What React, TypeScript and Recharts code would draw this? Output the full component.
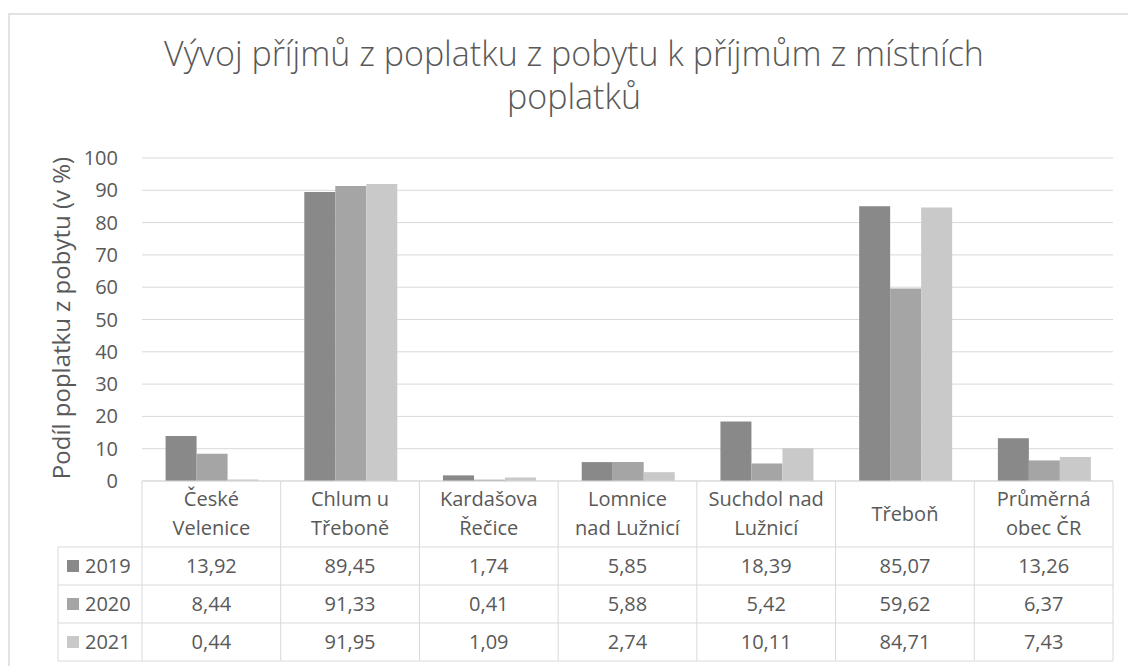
import { BarChart, Bar, XAxis, YAxis, CartesianGrid } from 'recharts'

const categories = [
  'České Velenice',
  'Chlum u Třeboně',
  'Kardašova Řečice',
  'Lomnice nad Lužnicí',
  'Suchdol nad Lužnicí',
  'Třeboň',
  'Průměrná obec ČR',
]
// how the category names wrap inside the data table
const categoryLines = [
  ['České', 'Velenice'],
  ['Chlum u', 'Třeboně'],
  ['Kardašova', 'Řečice'],
  ['Lomnice', 'nad Lužnicí'],
  ['Suchdol nad', 'Lužnicí'],
  ['Třeboň'],
  ['Průměrná', 'obec ČR'],
]
const years = ['2019', '2020', '2021']
const values2019 = [13.92, 89.45, 1.74, 5.85, 18.39, 85.07, 13.26]
const values2020 = [8.44, 91.33, 0.41, 5.88, 5.42, 59.62, 6.37]
const values2021 = [0.44, 91.95, 1.09, 2.74, 10.11, 84.71, 7.43]
const yTicks = [0, 10, 20, 30, 40, 50, 60, 70, 80, 90, 100]

const seriesValues = [values2019, values2020, values2021]
const colors = ['#898989', '#a5a5a5', '#c9c9c9']
const textColor = '#595959'
const lineColor = '#d9d9d9'
const font = '"Open Sans", sans-serif'

const data = categories.map((name, i) => ({
  name,
  y2019: values2019[i],
  y2020: values2020[i],
  y2021: values2021[i],
}))

const CHART_W = 1128
const CHART_H = 666
const MARGIN = { top: 158, right: 15, bottom: 0, left: 0 }
const Y_AXIS_W = 142
const X_AXIS_H = 185
const PLOT_W = CHART_W - MARGIN.left - MARGIN.right - Y_AXIS_W

function formatValue(v: number) {
  return v.toFixed(2).replace('.', ',')
}

function YTick(props: any) {
  const { y, payload } = props
  return (
    <text x={118} y={y} dy="0.35em" textAnchor="end" fill={textColor} fontSize={20} fontFamily={font}>
      {payload.value}
    </text>
  )
}

function TableTick(props: any) {
  const { x, y, index } = props
  const band = PLOT_W / categories.length
  const left = x - band / 2
  const right = x + band / 2
  const rowLines = [y + 66, y + 104, y + 142, y + 180]
  const rowCenters = [y + 85, y + 123, y + 161]
  const lines = categoryLines[index] || [categories[index]]
  const lineY = lines.length === 1 ? [y + 33] : [y + 18, y + 47]
  const legendLeft = 58

  return (
    <g>
      {index === 0 && (
        <g>
          <line x1={left} y1={y} x2={left} y2={rowLines[3]} stroke={lineColor} />
          <line x1={legendLeft} y1={rowLines[0]} x2={legendLeft} y2={rowLines[3]} stroke={lineColor} />
          {rowLines.map((ly, i) => (
            <line key={i} x1={legendLeft} y1={ly} x2={left} y2={ly} stroke={lineColor} />
          ))}
          {years.map((yr, i) => (
            <g key={yr}>
              <rect x={67} y={rowCenters[i] - 6} width={12} height={12} fill={colors[i]} />
              <text x={85} y={rowCenters[i]} dy="0.35em" fill={textColor} fontSize={20} fontFamily={font}>
                {yr}
              </text>
            </g>
          ))}
        </g>
      )}
      <line x1={right} y1={y} x2={right} y2={rowLines[3]} stroke={lineColor} />
      {rowLines.map((ly, i) => (
        <line key={i} x1={left} y1={ly} x2={right} y2={ly} stroke={lineColor} />
      ))}
      {lines.map((t, i) => (
        <text key={i} x={x} y={lineY[i]} dy="0.35em" textAnchor="middle" fill={textColor} fontSize={20} fontFamily={font}>
          {t}
        </text>
      ))}
      {seriesValues.map((vals, i) => (
        <text key={i} x={x} y={rowCenters[i]} dy="0.35em" textAnchor="middle" fill={textColor} fontSize={20} fontFamily={font}>
          {formatValue(vals[index])}
        </text>
      ))}
    </g>
  )
}

function YLabel() {
  return (
    <text
      x={62}
      y={318}
      transform="rotate(-90 62 318)"
      textAnchor="middle"
      dy="0.35em"
      fill={textColor}
      fontSize={24}
      fontFamily={font}
    >
      Podíl poplatku z pobytu (v %)
    </text>
  )
}

export default function App() {
  return (
    <div style={{ position: 'fixed', left: 0, top: 0, width: CHART_W, height: CHART_H, background: '#fff', overflow: 'hidden' }}>
      <div
        style={{
          position: 'absolute',
          left: 8,
          top: 13,
          width: 1200,
          height: 800,
          borderLeft: '2px solid #e2e2e2',
          borderTop: '2px solid #e2e2e2',
        }}
      />
      <div
        style={{
          position: 'absolute',
          left: 0,
          top: 32,
          width: 1148,
          textAlign: 'center',
          fontFamily: font,
          fontSize: 34,
          fontWeight: 300,
          lineHeight: '43px',
          color: textColor,
        }}
      >
        <div>Vývoj příjmů z poplatku z pobytu k příjmům z místních</div>
        <div>poplatků</div>
      </div>
      <div style={{ position: 'absolute', left: 0, top: 0 }}>
        <BarChart width={CHART_W} height={CHART_H} data={data} margin={MARGIN} barCategoryGap="17%" barGap={0}>
          <CartesianGrid vertical={false} stroke={lineColor} />
          <XAxis
            dataKey="name"
            height={X_AXIS_H}
            interval={0}
            tickLine={false}
            tickSize={0}
            tickMargin={0}
            axisLine={{ stroke: lineColor }}
            tick={<TableTick />}
          />
          <YAxis
            width={Y_AXIS_W}
            domain={[0, 100]}
            ticks={yTicks}
            axisLine={false}
            tickLine={false}
            tick={<YTick />}
            label={<YLabel />}
          />
          <Bar dataKey="y2019" name={years[0]} fill={colors[0]} isAnimationActive={false} />
          <Bar dataKey="y2020" name={years[1]} fill={colors[1]} isAnimationActive={false} />
          <Bar dataKey="y2021" name={years[2]} fill={colors[2]} isAnimationActive={false} />
        </BarChart>
      </div>
    </div>
  )
}
